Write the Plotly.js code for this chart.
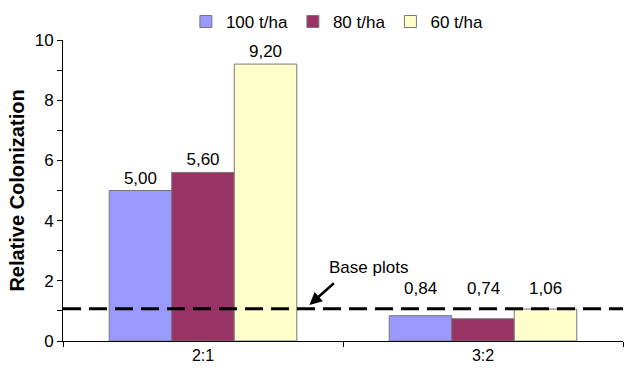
<!DOCTYPE html>
<html><head><meta charset="utf-8">
<script src="https://cdn.plot.ly/plotly-3.0.1.min.js"></script>
<style>html,body{margin:0;padding:0;background:#fff}#chart{width:624px;height:370px}</style>
</head><body><div id="chart"></div>
<script>
const categories = ["2:1", "3:2"];
const seriesNames = ["100 t/ha", "80 t/ha", "60 t/ha"];
const values100 = [5.00, 0.84];
const values80 = [5.60, 0.74];
const values60 = [9.20, 1.06];
const baseLevel = 1.07;
const baseLabel = "Base plots";
const colors = ["#9999FF", "#993366", "#FFFFCC"];
const allValues = [values100, values80, values60];

const fmt = v => v.toFixed(2).replace(".", ",");
const FONT = "Liberation Sans, Arial, sans-serif";

// group 1 labels drawn as bar text; group 2 labels lifted above the base line
const traces = allValues.map((v, i) => ({
  type: "bar", x: categories, y: v, name: seriesNames[i],
  marker: {color: colors[i], line: {color: "#777", width: 1}},
  text: v.map((val, j) => j === 0 ? fmt(val) : ""),
  textposition: "outside", cliponaxis: false,
  textfont: {family: FONT, size: 17, color: "#000"}
}));

const group2Top = Math.max(...allValues.map(v => v[1]));
const barPx = 62.4;
const labelAnns = allValues.map((v, i) => ({
  xref: "x", yref: "y", x: categories[1], y: group2Top, xshift: (i - 1) * barPx,
  yanchor: "bottom", yshift: 9, text: fmt(v[1]), showarrow: false,
  font: {family: FONT, size: 17, color: "#000"}
}));

const layout = {
  width: 624, height: 370,
  margin: {l: 63, r: 1, t: 40, b: 29, autoexpand: false},
  barmode: "group", bargap: 0.33, bargroupgap: 0,
  paper_bgcolor: "#fff", plot_bgcolor: "#fff",
  font: {family: FONT, size: 17, color: "#000"},
  showlegend: true,
  legend: {orientation: "h", x: 0.49, xanchor: "center", y: 1.06, yanchor: "middle",
    font: {size: 17}, itemwidth: 30, tracegroupgap: 0},
  xaxis: {showline: true, linecolor: "#000", linewidth: 1, ticks: "outside", ticklen: 5,
    tickcolor: "#000", tickson: "boundaries", showgrid: false, zeroline: false,
    tickfont: {size: 16}},
  yaxis: {range: [0, 10], dtick: 2, showline: true, linecolor: "#000", linewidth: 1,
    ticks: "outside", ticklen: 5, tickcolor: "#000", showgrid: false, zeroline: false,
    tickfont: {size: 17},
    minor: {dtick: 1, ticks: "outside", ticklen: 5, tickcolor: "#000", showgrid: false},
    title: {text: "<b>Relative Colonization</b>", font: {size: 20}, standoff: 4}},
  shapes: [{type: "line", xref: "paper", yref: "y", x0: 0, x1: 1, y0: baseLevel, y1: baseLevel,
    line: {color: "#000", width: 3, dash: "18px,8px"}}],
  annotations: [{xref: "x", yref: "y", x: 0.38, y: 1.2, ax: 26, ay: -23,
    text: "", showarrow: true, arrowhead: 2, arrowsize: 1, arrowwidth: 2.5, arrowcolor: "#000"},
    {xref: "x", yref: "y", x: 0.59, y: 2.43, text: baseLabel, showarrow: false,
    font: {size: 17}}].concat(labelAnns)
};
Plotly.newPlot("chart", traces, layout, {displayModeBar: false, staticPlot: true});
</script></body></html>
